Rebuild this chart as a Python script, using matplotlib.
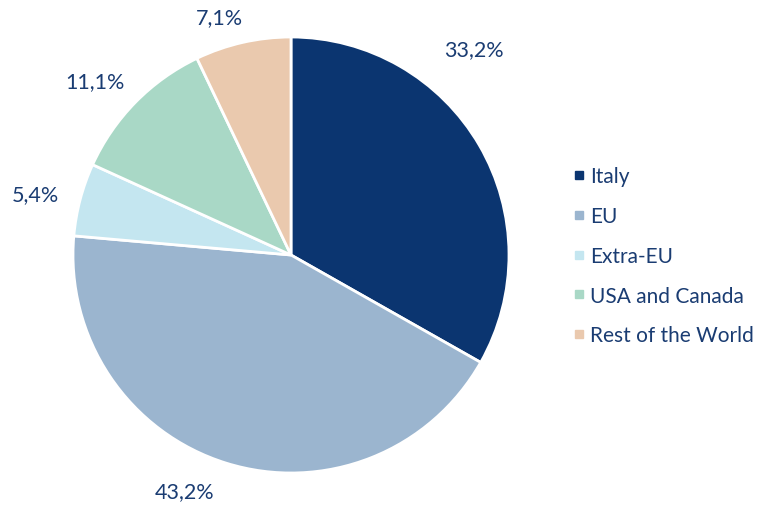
import matplotlib
matplotlib.use("Agg")
import matplotlib.pyplot as plt
from matplotlib.lines import Line2D

categories = ["Italy", "EU", "Extra-EU", "USA and Canada", "Rest of the World"]
values = [33.2, 43.2, 5.4, 11.1, 7.1]
labels = ["33,2%", "43,2%", "5,4%", "11,1%", "7,1%"]

colors = ["#0b3570", "#9bb5cf", "#c4e6f0", "#a9d8c6", "#eac9ae"]
text_color = "#1a3c72"
label_pos = [(0.839, 0.945), (-0.486, -1.083), (-1.174, 0.280), (-0.899, 0.798), (-0.330, 1.092)]

plt.rcParams['font.family'] = ['Lato', 'DejaVu Sans']

W, H = 769, 506
fig = plt.figure(figsize=(W / 100, H / 100), dpi=100)
ax = fig.add_axes([0, 0, 1, 1])
cx, cy, R = 291, 506 - 256, 218

wedges, _ = ax.pie(values, colors=colors, startangle=90, counterclock=False,
                   radius=1.0, wedgeprops=dict(edgecolor="white", linewidth=2))
for txt, (x, y) in zip(labels, label_pos):
    ax.text(x, y, txt, ha="center", va="center", fontsize=15.5, color=text_color)

ax.set_aspect("auto")
ax.set_xlim(-cx / R, (W - cx) / R)
ax.set_ylim(-cy / R, (H - cy) / R)
ax.axis("off")

handles = [Line2D([], [], marker="s", linestyle="none", markersize=6,
                  markerfacecolor=c, markeredgecolor=c) for c in colors]
leg = fig.legend(handles, categories, loc="upper left",
                 bbox_to_anchor=(565 / W, 1 - 159 / H), frameon=False,
                 fontsize=15, labelspacing=0.95, handlelength=0.5,
                 handletextpad=0.3, borderaxespad=0)
for t in leg.get_texts():
    t.set_color(text_color)

fig.savefig("out.png", dpi=100)
